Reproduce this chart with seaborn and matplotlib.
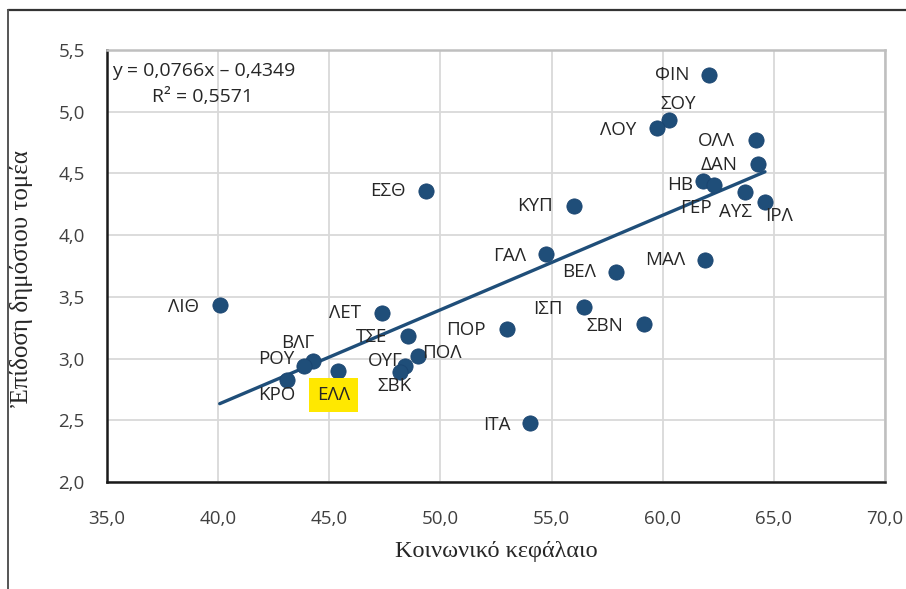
import matplotlib
matplotlib.use("Agg")
import matplotlib.pyplot as plt
from matplotlib.lines import Line2D
import numpy as np
import pandas as pd
import seaborn as sns

# ---- data ----
countries = ["ΦΙΝ", "ΣΟΥ", "ΛΟΥ", "ΟΛΛ", "ΔΑΝ", "ΗΒ", "ΓΕΡ", "ΑΥΣ", "ΙΡΛ",
             "ΜΑΛ", "ΒΕΛ", "ΚΥΠ", "ΓΑΛ", "ΕΣΘ", "ΛΙΘ", "ΛΕΤ", "ΤΣΕ", "ΠΟΛ",
             "ΟΥΓ", "ΣΒΚ", "ΒΛΓ", "ΡΟΥ", "ΚΡΟ", "ΕΛΛ", "ΠΟΡ", "ΙΣΠ", "ΣΒΝ", "ΙΤΑ"]
social_capital = [62.1, 60.3, 59.75, 64.2, 64.3, 61.8, 62.3, 63.7, 64.6,
                  61.9, 57.9, 56.0, 54.75, 49.35, 40.07, 47.35, 48.55, 49.0,
                  48.4, 48.2, 44.25, 43.85, 43.1, 45.4, 53.0, 56.45, 59.15, 54.05]
public_perf = [5.30, 4.93, 4.87, 4.77, 4.58, 4.44, 4.41, 4.35, 4.27,
               3.80, 3.70, 4.24, 3.85, 4.36, 3.43, 3.37, 3.18, 3.02,
               2.94, 2.89, 2.98, 2.94, 2.83, 2.90, 3.24, 3.42, 3.28, 2.48]
slope, intercept, r2 = 0.0766, -0.4349, 0.5571
x_ticks = [35, 40, 45, 50, 55, 60, 65, 70]
y_ticks = [2.0, 2.5, 3.0, 3.5, 4.0, 4.5, 5.0, 5.5]
x_title = "Κοινωνικό κεφάλαιο"
y_title = "Ἐπίδοση δημόσιου τομέα"
highlight = "ΕΛΛ"

# ---- label placement (pixel offsets from marker, ha) ----
label_pos = {
    "ΦΙΝ": (-20, 0, "right"), "ΣΟΥ": (9, 16, "center"), "ΛΟΥ": (-21, -2, "right"),
    "ΟΛΛ": (-21, -1, "right"), "ΔΑΝ": (-21, -1, "right"), "ΗΒ": (-10, -4, "right"),
    "ΓΕΡ": (-18, -23, "center"), "ΑΥΣ": (-10, -20, "center"), "ΙΡΛ": (14, -14, "center"),
    "ΜΑΛ": (-20, 0, "right"), "ΒΕΛ": (-20, 0, "right"), "ΚΥΠ": (-21, 0, "right"),
    "ΓΑΛ": (-20, -2, "right"), "ΕΣΘ": (-20, 0, "right"), "ΛΙΘ": (-21, -2, "right"),
    "ΛΕΤ": (-20, 0, "right"), "ΤΣΕ": (-21, -1, "right"), "ΠΟΛ": (4, 3, "left"),
    "ΟΥΓ": (-2, 5, "right"), "ΣΒΚ": (-6, -14, "center"), "ΒΛΓ": (-15, 18, "center"),
    "ΡΟΥ": (-9, 7, "right"), "ΚΡΟ": (-10, -15, "center"), "ΕΛΛ": (-4.5, -24, "center"),
    "ΠΟΡ": (-21, -1, "right"), "ΙΣΠ": (-21, -2, "right"), "ΣΒΝ": (-21, -2, "right"),
    "ΙΤΑ": (-20, -2, "right"),
}

df = pd.DataFrame({"country": countries, "x": social_capital, "y": public_perf})
xs = np.array([min(social_capital), max(social_capital)])
trend = pd.DataFrame({"x": xs, "y": slope * xs + intercept})

sns.set_style("white")
plt.rcParams["font.family"] = ["Open Sans", "DejaVu Sans"]

W, H, DPI = 906, 589, 100
fig = plt.figure(figsize=(W / DPI, H / DPI), dpi=DPI)
L, R, T, B = 107, 885, 50, 482
ax = fig.add_axes([L / W, 1 - B / H, (R - L) / W, (B - T) / H])

DOT = "#1F4E79"
ax.grid(True, color="#D9D9D9", lw=1.3)
ax.set_axisbelow(True)

sns.lineplot(data=trend, x="x", y="y", ax=ax, color=DOT, lw=2.4, zorder=3)
sns.scatterplot(data=df, x="x", y="y", ax=ax, color=DOT, s=120,
                edgecolor="#1A4470", linewidth=0.6, zorder=4)

ax.set_xlim(35, 70)
ax.set_ylim(2.0, 5.5)
ax.set_xticks(x_ticks)
ax.set_yticks(y_ticks)
ax.set_xticklabels([f"{v:.1f}".replace(".", ",") for v in x_ticks])
ax.set_yticklabels([f"{v:.1f}".replace(".", ",") for v in y_ticks])
ax.tick_params(axis="x", length=0, pad=20, labelsize=13.5, colors="#404040")
ax.tick_params(axis="y", length=0, pad=16, labelsize=13.5, colors="#404040")
ax.set_xlabel("")
ax.set_ylabel("")

for side in ["left", "bottom"]:
    ax.spines[side].set_color("#1a1a1a")
    ax.spines[side].set_linewidth(1.8)
for side in ["top", "right"]:
    ax.spines[side].set_color("#BFBFBF")
    ax.spines[side].set_linewidth(1.8)

px2pt = 72 / DPI
for c, xv, yv in zip(countries, social_capital, public_perf):
    dx, dy, ha = label_pos[c]
    kw = {}
    if c == highlight:
        kw["bbox"] = dict(boxstyle="square,pad=0.42", fc="#FFE800", ec="none")
    ax.annotate(c, (xv, yv), xytext=(dx * px2pt, dy * px2pt), textcoords="offset points",
                ha=ha, va="center", fontsize=13.5, color="#262626", zorder=5, **kw)

fig.text(112 / W, 1 - 71 / H, f"y = {slope:.4f}x – {abs(intercept):.4f}".replace(".", ","),
         ha="left", va="center", fontsize=14, color="#262626")
fig.text(203 / W, 1 - 97 / H, f"R² = {r2:.4f}".replace(".", ","),
         ha="center", va="center", fontsize=14, color="#262626")

serif = ["Liberation Serif", "DejaVu Serif"]
fig.text((L + R) / 2 / W, 1 - 552 / H, x_title, ha="center", va="center",
         fontsize=17.5, family=serif, color="#262626")
fig.text(22 / W, 1 - 279 / H, y_title, ha="center", va="center", rotation=90,
         fontsize=18, family=serif, color="#262626")

# outer frame
fig.add_artist(Line2D([8 / W, 1], [1 - 9.5 / H, 1 - 9.5 / H], transform=fig.transFigure,
                      color="#333333", lw=1.6))
fig.add_artist(Line2D([8 / W, 8 / W], [0, 1 - 9.5 / H], transform=fig.transFigure,
                      color="#555555", lw=1.4))

fig.savefig("out.png", dpi=DPI, facecolor="white")
